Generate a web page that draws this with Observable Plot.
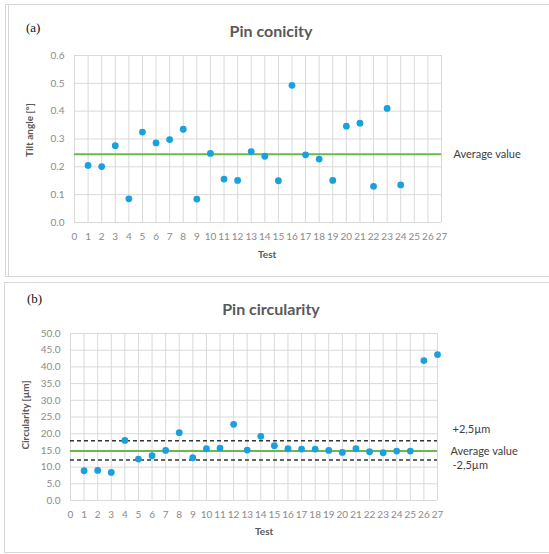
<!DOCTYPE html>
<html>
<head>
<meta charset="utf-8">
<script src="https://cdn.jsdelivr.net/npm/d3@7"></script>
<script src="https://cdn.jsdelivr.net/npm/@observablehq/plot@0.6"></script>
<style>
  html, body { margin: 0; padding: 0; background: #fff; }
  body { width: 549px; height: 554px; position: relative; overflow: hidden; font-family: Lato, "Open Sans", sans-serif; }
  .panel { position: absolute; border: 1.5px solid #d6d6d6; box-sizing: border-box; }
  .abs { position: absolute; white-space: nowrap; }
  .tag { font-family: "Liberation Serif", serif; font-size: 13px; color: #111; }
  .title { font-size: 16px; font-weight: 700; color: #595959; transform: translateX(-50%); }
  .axt { font-size: 10px; font-weight: 700; color: #595959; }
  .chart { position: absolute; left: 0; }
</style>
</head>
<body>
<div class="panel" style="left:5px; top:4px; width:560px; height:273px;"></div>
<div class="panel" style="left:8px; top:4px; width:1px; height:273px; border-width:0 0 0 1px;"></div>
<div class="panel" style="left:4px; top:282px; width:560px; height:271px;"></div>

<div class="abs tag" style="left:26px; top:20px;">(a)</div>
<div class="abs title" style="left:271px; top:21px;">Pin conicity</div>
<div class="abs axt" style="left:29px; top:130px; transform: translate(-50%,-50%) rotate(-90deg);">Tilt angle [°]</div>
<div class="abs axt" style="left:258px; top:248px;">Test</div>

<div class="abs tag" style="left:27px; top:291px;">(b)</div>
<div class="abs title" style="left:271px; top:299px;">Pin circularity</div>
<div class="abs axt" style="left:25px; top:415px; transform: translate(-50%,-50%) rotate(-90deg);">Circularity [µm]</div>
<div class="abs axt" style="left:255px; top:525px;">Test</div>

<div id="a" class="chart" style="top:0px;"></div>
<div id="b" class="chart" style="top:277px;"></div>

<script>
// Test numbers
const testsA = [1,2,3,4,5,6,7,8,9,10,11,12,13,14,15,16,17,18,19,20,21,22,23,24];
// Pin conicity: tilt angle [°]
const tiltAngle = [0.205,0.201,0.276,0.085,0.325,0.286,0.298,0.335,0.084,0.248,0.156,0.151,0.255,0.238,0.150,0.493,0.243,0.228,0.151,0.346,0.357,0.130,0.410,0.135];
const tiltAverage = 0.245;

const testsB = [1,2,3,4,5,6,7,8,9,10,11,12,13,14,15,16,17,18,19,20,21,22,23,24,25,26,27];
// Pin circularity [µm]
const circularity = [8.9,9.0,8.4,18.0,12.4,13.4,15.0,20.3,12.8,15.5,15.7,22.8,15.1,19.2,16.4,15.5,15.4,15.4,15.0,14.4,15.5,14.6,14.3,14.8,14.8,41.9,43.7];
const circAverage = 14.8;
const circUpper = 17.9;
const circLower = 12.1;

// Axis ticks
const xTicks = d3.range(0, 28);
const yTicksA = [0, 0.1, 0.2, 0.3, 0.4, 0.5, 0.6];
const yTicksB = [0, 5, 10, 15, 20, 25, 30, 35, 40, 45, 50];

const blue = "#1aa0dc";
const green = "#6db84a";
const grid = "#d9d9d9";
const tickColor = "#8a8a8a";

const dataA = testsA.map((t, i) => ({test: t, value: tiltAngle[i]}));
const dataB = testsB.map((t, i) => ({test: t, value: circularity[i]}));

const common = {
  width: 549,
  height: 277,
  style: {fontFamily: "Lato, 'Open Sans', sans-serif", fontSize: "10px", background: "transparent", overflow: "visible"}
};

const chartA = Plot.plot({
  ...common,
  marginLeft: 74, marginRight: 108, marginTop: 55, marginBottom: 55,
  x: {domain: [0, 27], ticks: xTicks, tickSize: 0, tickPadding: 10, label: null, tickFormat: d => String(d)},
  y: {domain: [0, 0.6], ticks: yTicksA, tickSize: 0, tickPadding: 10, label: null, tickFormat: d => d.toFixed(1)},
  marks: [
    Plot.gridX(xTicks, {stroke: grid, strokeOpacity: 1, strokeWidth: 1}),
    Plot.gridY(yTicksA, {stroke: grid, strokeOpacity: 1, strokeWidth: 1}),
    Plot.axisX({ticks: xTicks, tickSize: 0, tickPadding: 10, color: tickColor, fontSize: 10, tickFormat: d => String(d)}),
    Plot.axisY({ticks: yTicksA, tickSize: 0, tickPadding: 10, color: tickColor, fontSize: 10, tickFormat: d => d.toFixed(1)}),
    Plot.ruleY([tiltAverage], {stroke: green, strokeWidth: 2}),
    Plot.dot(dataA, {x: "test", y: "value", r: 3.4, fill: blue, stroke: "none"}),
    Plot.text([tiltAverage], {x: () => 27, y: d => d, text: () => "Average value", textAnchor: "start", dx: 12, fontSize: 11, fill: "#404040"})
  ]
});
document.getElementById("a").appendChild(chartA);

const chartB = Plot.plot({
  ...common,
  marginLeft: 70, marginRight: 112, marginTop: 56, marginBottom: 54,
  x: {domain: [0, 27], ticks: xTicks, tickSize: 0, tickPadding: 10, label: null, tickFormat: d => String(d)},
  y: {domain: [0, 50], ticks: yTicksB, tickSize: 0, tickPadding: 10, label: null, tickFormat: d => d.toFixed(1)},
  marks: [
    Plot.gridX(xTicks, {stroke: grid, strokeOpacity: 1, strokeWidth: 1}),
    Plot.gridY(yTicksB, {stroke: grid, strokeOpacity: 1, strokeWidth: 1}),
    Plot.axisX({ticks: xTicks, tickSize: 0, tickPadding: 10, color: tickColor, fontSize: 10, tickFormat: d => String(d)}),
    Plot.axisY({ticks: yTicksB, tickSize: 0, tickPadding: 10, color: tickColor, fontSize: 10, tickFormat: d => d.toFixed(1)}),
    Plot.ruleY([circUpper, circLower], {stroke: "#333", strokeWidth: 1.5, strokeDasharray: "4,3"}),
    Plot.ruleY([circAverage], {stroke: green, strokeWidth: 2}),
    Plot.dot(dataB, {x: "test", y: "value", r: 3.4, fill: blue, stroke: "none"}),
    Plot.text([circUpper], {x: () => 27, y: d => d, text: () => "+2,5µm", textAnchor: "start", dx: 15, dy: -11, fontSize: 11, fill: "#404040"}),
    Plot.text([circAverage], {x: () => 27, y: d => d, text: () => "Average value", textAnchor: "start", dx: 13, fontSize: 11, fill: "#404040"}),
    Plot.text([circLower], {x: () => 27, y: d => d, text: () => "-2,5µm", textAnchor: "start", dx: 15, dy: 5, fontSize: 11, fill: "#404040"})
  ]
});
document.getElementById("b").appendChild(chartB);
</script>
</body>
</html>
